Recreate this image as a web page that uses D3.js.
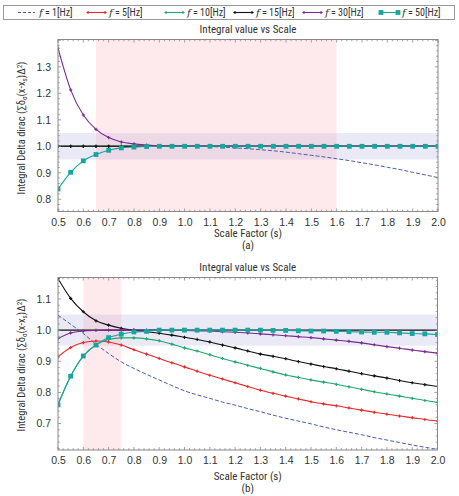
<!DOCTYPE html>
<html><head><meta charset="utf-8">
<script src="https://cdn.jsdelivr.net/npm/d3@7"></script>
<style>
html,body{margin:0;padding:0;background:#fff;}
svg{display:block;font-family:"Liberation Sans Narrow","Roboto Condensed",Roboto,sans-serif;}
</style></head>
<body><svg id="c" width="459" height="496"></svg>
<script>
const scaleFactors = [0.5,0.55,0.6,0.65,0.7,0.75,0.8,0.85,0.9,0.95,1.0,1.05,1.1,1.15,1.2,1.25,1.3,1.35,1.4,1.45,1.5,1.55,1.6,1.65,1.7,1.75,1.8,1.85,1.9,1.95,2.0];
const seriesNames = ["1","5","10","15","30","50"];
const xTicks = [0.5,0.6,0.7,0.8,0.9,1.0,1.1,1.2,1.3,1.4,1.5,1.6,1.7,1.8,1.9,2.0];
const yTicksA = [0.8,0.9,1.0,1.1,1.2,1.3];
const yTicksB = [0.7,0.8,0.9,1.0,1.1];
const refValue = [1.0];

// panel (a)
const f1_a = [1,1,1,1,1,1,1,1,1,1,1,1,0.999,0.997,0.994,0.991,0.987,0.983,0.978,0.972,0.966,0.960,0.953,0.946,0.938,0.930,0.921,0.912,0.902,0.892,0.882];
const f5_a = [1,1,1,1,1,1,1,1,1,1,1,1,1,1,1,1,1,1,1,1,1,1,1,1,1,1,1,1,1,1,1];
const f10_a = [1,1,1,1,1,1,1,1,1,1,1,1,1,1,1,1,1,1,1,1,1,1,1,1,1,1,1,1,1,1,1];
const f15_a = [1,1,1,1,1,1,1,1,1,1,1,1,1,1,1,1,1,1,1,1,1,1,1,1,1,1,1,1,1,1,1];
const f30_a = [1.370,1.213,1.118,1.064,1.033,1.016,1.009,1.005,1.002,1.001,1,1,1,1,1,1,1,1,1,1,1,1,1,1,1,1,1,1,1,1,1];
const f50_a = [0.839,0.902,0.945,0.969,0.985,0.994,0.997,0.999,1,1,1,1,1,1,1,1,1,1,1,1,1,1,1,1,1,1,1,1,1,1,1];

// panel (b)
const f1_b = [1.048,1.019,0.989,0.955,0.925,0.898,0.877,0.858,0.840,0.822,0.805,0.792,0.781,0.769,0.759,0.748,0.738,0.727,0.717,0.708,0.699,0.689,0.680,0.672,0.664,0.655,0.647,0.639,0.631,0.624,0.617];
const f5_b = [0.914,0.944,0.960,0.965,0.962,0.952,0.937,0.923,0.909,0.895,0.882,0.868,0.855,0.843,0.831,0.819,0.807,0.797,0.788,0.779,0.770,0.763,0.757,0.750,0.743,0.736,0.730,0.724,0.719,0.713,0.708];
const f10_b = [0.762,0.852,0.916,0.953,0.970,0.975,0.975,0.972,0.966,0.955,0.943,0.933,0.921,0.909,0.898,0.887,0.877,0.866,0.856,0.848,0.840,0.833,0.826,0.818,0.810,0.802,0.795,0.788,0.781,0.774,0.768];
const f15_b = [1.166,1.102,1.059,1.030,1.016,1.006,1.000,0.995,0.990,0.984,0.977,0.970,0.962,0.952,0.943,0.933,0.923,0.916,0.908,0.899,0.891,0.883,0.876,0.868,0.860,0.853,0.846,0.838,0.831,0.825,0.819];
const f30_b = [0.973,0.991,0.997,0.999,1.0,1.0,1.0,1.0,1.0,0.999,0.999,0.998,0.997,0.995,0.993,0.991,0.988,0.985,0.982,0.979,0.976,0.972,0.968,0.964,0.959,0.953,0.947,0.942,0.936,0.931,0.926];
const f50_b = [0.760,0.852,0.917,0.952,0.976,0.987,0.994,0.996,1,1,1,1,1,1,1,1,1,0.999,0.999,0.998,0.997,0.997,0.996,0.995,0.994,0.993,0.993,0.991,0.989,0.988,0.986];

const bandA = [0.95,1.05], shadeA = [0.65,1.6];
const bandB = [0.95,1.05], shadeB = [0.6,0.75];

const colors = ["#4b5cb0","#e8282a","#1fa86c","#111111","#7b2a8f","#17a5a0"];
const markers = ["none","plus","plus","plus","plus","square"];

const svg = d3.select("#c");

function drawMarker(g,type,x,y,c){
  if(type==="plus"){
    g.append("path").attr("d",`M${x-1.6},${y}H${x+1.6}M${x},${y-1.6}V${y+1.6}`).attr("stroke",c).attr("stroke-width",1.1);
  } else if(type==="square"){
    g.append("rect").attr("x",x-2.4).attr("y",y-2.4).attr("width",4.8).attr("height",4.8).attr("fill",c);
  }
}

// legend
const lg = svg.append("g");
lg.append("rect").attr("x",3.5).attr("y",5.5).attr("width",451).attr("height",14).attr("fill","#fff").attr("stroke","#999");
const lgX = [18,88,166,235,304,381];
seriesNames.forEach((n,i)=>{
  const x0 = lgX[i], y0 = 12.5;
  lg.append("line").attr("x1",x0).attr("x2",x0+17).attr("y1",y0).attr("y2",y0)
    .attr("stroke",colors[i]).attr("stroke-width",1.1).attr("stroke-dasharray",i===0?"3,2":null);
  if (markers[i]!=="none") [x0,x0+17].forEach(mx=>drawMarker(lg,markers[i],mx,y0,colors[i]));
  const t = lg.append("text").attr("x",x0+21).attr("y",16).attr("font-size",10).attr("fill","#333");
  t.append("tspan").attr("font-style","italic").attr("font-family","DejaVu Serif, serif").text("f");
  t.append("tspan").text(" = "+n+"[Hz]");
});

function panel(cfg){
  const {left,right,top,bottom,yDomain,yTicks,series,band,shade,label,xTitleY,labY,titleY} = cfg;
  const x = d3.scaleLinear().domain([0.5,2.0]).range([left,right]);
  const y = d3.scaleLinear().domain(yDomain).range([bottom,top]);
  const g = svg.append("g");
  const clipId = "clip"+label;
  g.append("clipPath").attr("id",clipId).append("rect").attr("x",left).attr("y",top).attr("width",right-left).attr("height",bottom-top);

  g.append("text").attr("x",(left+right)/2).attr("y",titleY).attr("text-anchor","middle").attr("font-size",11).attr("fill","#333").text("Integral value vs Scale");

  // shaded regions
  g.append("rect").attr("x",left).attr("width",right-left).attr("y",y(band[1])).attr("height",y(band[0])-y(band[1]))
    .attr("fill","rgba(160,160,215,0.22)");
  g.append("rect").attr("x",x(shade[0])).attr("width",x(shade[1])-x(shade[0])).attr("y",top).attr("height",bottom-top)
    .attr("fill","rgba(250,160,175,0.22)");

  const lines = g.append("g").attr("clip-path",`url(#${clipId})`);
  // reference line y = 1
  refValue.forEach(r=>lines.append("line").attr("x1",left).attr("x2",right).attr("y1",y(r)).attr("y2",y(r)).attr("stroke","#111").attr("stroke-width",1.1));

  const line = d3.line().x((d,i)=>x(scaleFactors[i])).y(d=>y(d)).curve(d3.curveMonotoneX);
  series.forEach((s,i)=>{
    lines.append("path").datum(s).attr("d",line).attr("fill","none").attr("stroke",colors[i])
      .attr("stroke-width",i===0?1:1.1).attr("stroke-dasharray",i===0?"4,2":null);
    if(markers[i]!=="none") s.forEach((v,j)=>drawMarker(lines,markers[i],x(scaleFactors[j]),y(v),colors[i]));
  });

  // frame
  g.append("rect").attr("x",left).attr("y",top).attr("width",right-left).attr("height",bottom-top).attr("fill","none").attr("stroke","#8a8a8a").attr("stroke-width",1);

  // ticks (inward, all sides)
  const minorX = d3.range(0,76).map(k=>0.5+k*0.02);
  const tk = g.append("g").attr("stroke","#8a8a8a").attr("stroke-width",0.8);
  minorX.forEach(v=>{
    const isMaj = Math.abs(v*10-Math.round(v*10))<1e-6;
    const L = isMaj?3:1.8;
    tk.append("line").attr("x1",x(v)).attr("x2",x(v)).attr("y1",bottom).attr("y2",bottom-L);
    tk.append("line").attr("x1",x(v)).attr("x2",x(v)).attr("y1",top).attr("y2",top+L);
  });
  const y0 = Math.ceil(yDomain[0]/0.02)*0.02;
  for(let v=y0; v<=yDomain[1]+1e-9; v+=0.02){
    const isMaj = Math.abs(v*10-Math.round(v*10))<1e-6;
    const L = isMaj?3:1.8;
    tk.append("line").attr("y1",y(v)).attr("y2",y(v)).attr("x1",left).attr("x2",left+L);
    tk.append("line").attr("y1",y(v)).attr("y2",y(v)).attr("x1",right).attr("x2",right-L);
  }

  // tick labels
  const xa = d3.axisBottom(x).tickValues(xTicks).tickFormat(d3.format(".1f")).tickSize(0).tickPadding(0);
  const gx = g.append("g").attr("transform",`translate(0,${bottom+7})`).call(xa);
  gx.select(".domain").remove();
  gx.selectAll("text").attr("font-size",10.5).attr("fill","#333").attr("font-family","inherit");
  const ya = d3.axisLeft(y).tickValues(yTicks).tickFormat(d3.format(".1f")).tickSize(0).tickPadding(0);
  const gy = g.append("g").attr("transform",`translate(${left-7},0)`).call(ya);
  gy.select(".domain").remove();
  gy.selectAll("text").attr("font-size",10.5).attr("fill","#333").attr("font-family","inherit");

  g.append("text").attr("x",(left+right)/2).attr("y",xTitleY).attr("text-anchor","middle").attr("font-size",11).attr("fill","#333").text("Scale Factor (s)");
  g.append("text").attr("x",(left+right)/2).attr("y",xTitleY+12).attr("text-anchor","middle").attr("font-size",11).attr("fill","#333").text("("+label+")");

  const yl = g.append("text").attr("transform",`translate(25,${labY}) rotate(-90)`).attr("text-anchor","middle").attr("font-size",10.5).attr("fill","#333");
  yl.append("tspan").text("Integral Delta dirac (∑δ");
  yl.append("tspan").attr("dy",2).attr("font-size",7).text("σ");
  yl.append("tspan").attr("dy",-2).text("(x-x");
  yl.append("tspan").attr("dy",2).attr("font-size",7).text("s");
  yl.append("tspan").attr("dy",-2).text(")Δ");
  yl.append("tspan").attr("dy",-3).attr("font-size",7).text("2");
  yl.append("tspan").attr("dy",3).text(")");
}

panel({left:58,right:438,top:39.5,bottom:211.5,yDomain:[0.754,1.403],yTicks:yTicksA,
  series:[f1_a,f5_a,f10_a,f15_a,f30_a,f50_a],band:bandA,shade:shadeA,label:"a",xTitleY:237,labY:128,titleY:33});
panel({left:58,right:437.5,top:277.5,bottom:450,yDomain:[0.615,1.169],yTicks:yTicksB,
  series:[f1_b,f5_b,f10_b,f15_b,f30_b,f50_b],band:bandB,shade:shadeB,label:"b",xTitleY:480,labY:365,titleY:271});
</script></body></html>
